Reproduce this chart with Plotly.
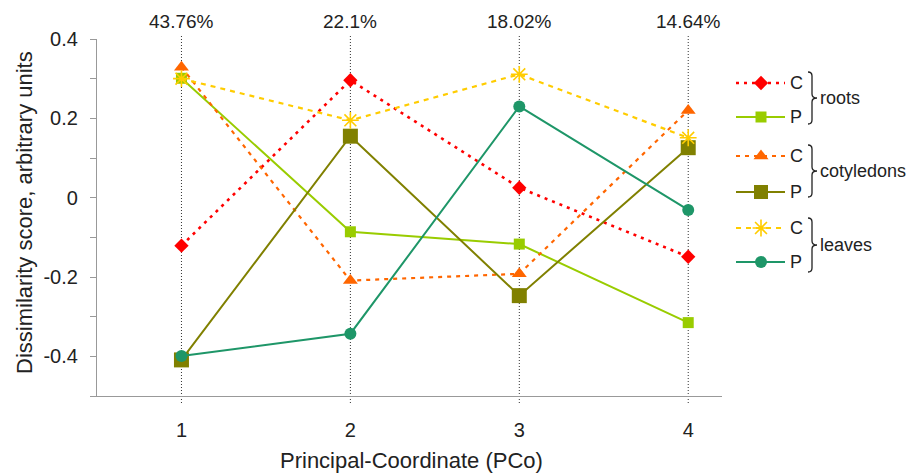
import plotly.graph_objects as go

W, H = 909, 474

# Principal coordinates and the share of variance each explains
pco = [1, 2, 3, 4]
explained = ["43.76%", "22.1%", "18.02%", "14.64%"]

# Dissimilarity scores per tissue, C and P
roots_c = [-0.121, 0.296, 0.025, -0.149]
roots_p = [0.301, -0.086, -0.117, -0.315]
cotyledons_c = [0.329, -0.209, -0.192, 0.220]
cotyledons_p = [-0.409, 0.155, -0.247, 0.126]
leaves_c = [0.300, 0.195, 0.311, 0.151]
leaves_p = [-0.399, -0.343, 0.230, -0.031]

y_ticks = [-0.5, -0.4, -0.3, -0.2, -0.1, 0.0, 0.1, 0.2, 0.3, 0.4]
y_tick_text = ["", "-0.4", "", "-0.2", "", "0", "", "0.2", "", "0.4"]

FONT = "Liberation Sans, Arial, sans-serif"
INK = "#222"

# plot-area placement in pixels
PX_L, PX_R, PY_T, PY_B = 97, 722, 39, 396

series = [
    dict(name="C", group="roots", y=roots_c, color="#FF0000", dash="3px,5px", width=2.6,
         symbol="diamond", size=11, line_w=0),
    dict(name="P", group="roots", y=roots_p, color="#99CC00", dash="solid", width=2,
         symbol="square", size=11, line_w=0),
    dict(name="C", group="cotyledons", y=cotyledons_c, color="#FF6600", dash="4px,5px", width=2.2,
         symbol="triangle-up", size=13, line_w=0),
    dict(name="P", group="cotyledons", y=cotyledons_p, color="#808000", dash="solid", width=2,
         symbol="square", size=15, line_w=0),
    dict(name="C", group="leaves", y=leaves_c, color="#FFCC00", dash="5px,5px", width=2.2,
         symbol="asterisk-open", size=14, line_w=1.6),
    dict(name="P", group="leaves", y=leaves_p, color="#1E9668", dash="solid", width=2,
         symbol="circle", size=12, line_w=0),
]


def marker_for(s, cap=None):
    size = s["size"] if cap is None else min(s["size"], cap)
    m = dict(symbol=s["symbol"], size=size, color=s["color"])
    m["line"] = dict(color=s["color"], width=s["line_w"]) if s["line_w"] else dict(width=0)
    return m


fig = go.Figure()

for s in series:
    fig.add_trace(go.Scatter(
        x=pco, y=s["y"], mode="lines+markers",
        line=dict(color=s["color"], width=s["width"], dash=s["dash"]),
        marker=marker_for(s), showlegend=False, cliponaxis=False,
        xaxis="x", yaxis="y",
    ))

# hand-built grouped legend on a pixel-space overlay axis
leg_rows = [83, 117, 156, 192, 228, 262]
for s, ry in zip(series, leg_rows):
    fig.add_trace(go.Scatter(
        x=[736, 785], y=[ry, ry], mode="lines",
        line=dict(color=s["color"], width=s["width"], dash=s["dash"]),
        showlegend=False, xaxis="x2", yaxis="y2", hoverinfo="skip",
    ))
    fig.add_trace(go.Scatter(
        x=[761], y=[ry], mode="markers", marker=marker_for(s, cap=14),
        showlegend=False, xaxis="x2", yaxis="y2", hoverinfo="skip",
    ))
    fig.add_annotation(x=788, y=ry, xref="x2", yref="y2", text=s["name"], showarrow=False,
                       xanchor="left", yanchor="middle", font=dict(family=FONT, size=18, color=INK))

groups = [("roots", 72, 124), ("cotyledons", 145, 197), ("leaves", 218, 272)]
shapes = []
for label, top, bot in groups:
    mid = (top + bot) / 2
    x0, x1, x2 = 808, 812, 817
    path = (f"M {x0},{top} Q {x1},{top} {x1},{top+4} L {x1},{mid-4} Q {x1},{mid} {x2},{mid} "
            f"Q {x1},{mid} {x1},{mid+4} L {x1},{bot-4} Q {x1},{bot} {x0},{bot}")
    shapes.append(dict(type="path", path=path, xref="x2", yref="y2",
                       line=dict(color=INK, width=1.3)))
    fig.add_annotation(x=818, y=mid, xref="x2", yref="y2", text=label, showarrow=False,
                       xanchor="left", yanchor="middle", font=dict(family=FONT, size=18, color=INK))

# dotted guides through each coordinate, plus explained-variance labels on top
for xv, pct in zip(pco, explained):
    shapes.append(dict(type="line", xref="x", yref="paper", x0=xv, x1=xv,
                       y0=(H - 403) / H, y1=(H - 34) / H,
                       line=dict(color="#333", width=1, dash="1px,2px"), layer="below"))
    fig.add_annotation(x=xv, y=(H - 22) / H, xref="x", yref="paper", text=pct, showarrow=False,
                       xanchor="center", yanchor="middle", font=dict(family=FONT, size=19, color=INK))

# axis titles
fig.add_annotation(x=411 / W, y=0, xref="paper", yref="paper",
                   text="Principal-Coordinate (PCo)", showarrow=False, borderpad=0,
                   xanchor="center", yanchor="bottom", font=dict(family=FONT, size=22, color=INK))
fig.add_annotation(x=25 / W, y=(H - 213) / H, xref="paper", yref="paper",
                   text="Dissimilarity score, arbitrary units", showarrow=False, textangle=-90,
                   xanchor="center", yanchor="middle", font=dict(family=FONT, size=22, color=INK))

fig.update_layout(
    width=W, height=H,
    margin=dict(l=0, r=0, t=0, b=0, autoexpand=False),
    paper_bgcolor="white", plot_bgcolor="rgba(0,0,0,0)",
    font=dict(family=FONT, size=18, color=INK),
    shapes=shapes,
    xaxis=dict(
        domain=[PX_L / W, PX_R / W], range=[0.5, 4.2], automargin=False,
        tickvals=pco, ticktext=[str(v) for v in pco], ticks="", ticklabelstandoff=16,
        showline=True, linecolor="#999", linewidth=1.2, showgrid=False, zeroline=False,
        tickfont=dict(family=FONT, size=20, color=INK),
    ),
    yaxis=dict(
        domain=[(H - PY_B) / H, (H - PY_T) / H], range=[-0.5, 0.4], automargin=False,
        tickvals=y_ticks, ticktext=y_tick_text, ticks="outside", ticklen=6, tickcolor="#999",
        tickwidth=1.2, ticklabelstandoff=8,
        showline=True, linecolor="#999", linewidth=1.2, showgrid=False, zeroline=False,
        tickfont=dict(family=FONT, size=20, color=INK),
    ),
    xaxis2=dict(domain=[0, 1], range=[0, W], visible=False, fixedrange=True, anchor="y2",
                automargin=False),
    yaxis2=dict(domain=[0, 1], range=[H, 0], visible=False, fixedrange=True, anchor="x2",
                automargin=False),
)

fig.write_html("out.html")
